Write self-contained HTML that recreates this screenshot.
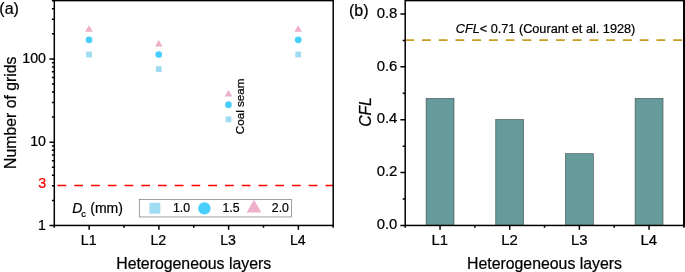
<!DOCTYPE html><html><head><meta charset="utf-8"><title>Figure</title><style>html,body{margin:0;padding:0;background:#fff}svg{display:block}text{font-family:"Liberation Sans",sans-serif;fill:#000;stroke:#000;stroke-width:.22px}</style></head><body>
<svg width="685" height="272" viewBox="0 0 685 272">
<rect width="685" height="272" fill="#fff"/>
<rect x="86.11" y="51.61" width="5.8" height="5.8" fill="#a1dbf2"/>
<circle cx="89.01" cy="39.84" r="3.35" fill="#48cefa"/>
<path d="M85.21 31.73L92.81 31.73L89.01 25.23Z" fill="#edafc9"/>
<rect x="155.84" y="66.28" width="5.8" height="5.8" fill="#a1dbf2"/>
<circle cx="158.74" cy="54.51" r="3.35" fill="#48cefa"/>
<path d="M154.94 46.40L162.54 46.40L158.74 39.90Z" fill="#edafc9"/>
<rect x="225.56" y="116.43" width="5.8" height="5.8" fill="#a1dbf2"/>
<circle cx="228.46" cy="104.66" r="3.35" fill="#48cefa"/>
<path d="M224.66 96.55L232.26 96.55L228.46 90.05Z" fill="#edafc9"/>
<rect x="295.29" y="51.61" width="5.8" height="5.8" fill="#a1dbf2"/>
<circle cx="298.19" cy="39.84" r="3.35" fill="#48cefa"/>
<path d="M294.39 31.73L301.99 31.73L298.19 25.23Z" fill="#edafc9"/>
<path d="M57.5 185.6H333.2" stroke="#ff0000" stroke-width="1.5" stroke-dasharray="8.75 8" fill="none"/>
<path d="M49.50 225.50H54.3M51.90 200.42H54.3M51.90 185.76H54.3M51.90 175.35H54.3M51.90 167.28H54.3M51.90 160.68H54.3M51.90 155.10H54.3M51.90 150.27H54.3M51.90 146.01H54.3M49.50 142.20H54.3M51.90 117.12H54.3M51.90 102.46H54.3M51.90 92.05H54.3M51.90 83.98H54.3M51.90 77.38H54.3M51.90 71.80H54.3M51.90 66.97H54.3M51.90 62.71H54.3M49.50 58.90H54.3M51.90 33.82H54.3M51.90 19.16H54.3M51.90 8.75H54.3M51.90 0.68H54.3M89.16 225.45V229.85M124.02 225.45V227.85M54.30 225.45V227.85M158.89 225.45V229.85M193.75 225.45V227.85M228.61 225.45V229.85M263.48 225.45V227.85M298.34 225.45V229.85M333.20 225.45V227.85" stroke="#000" stroke-width="1.5" fill="none"/>
<rect x="54.3" y="0.6" width="278.9" height="224.85" stroke="#000" stroke-width="1.5" fill="none"/>
<text x="46" y="62.60" font-size="14.2" text-anchor="end">100</text>
<text x="46" y="146.15" font-size="14.2" text-anchor="end">10</text>
<text x="46" y="229.80" font-size="14.2" text-anchor="end">1</text>
<text x="46.2" y="188.45" font-size="14.3" text-anchor="end" style="fill:#ff0000;stroke:#ff0000">3</text>
<text x="88.66" y="244.5" font-size="14.2" text-anchor="middle">L1</text>
<text x="158.39" y="244.5" font-size="14.2" text-anchor="middle">L2</text>
<text x="228.11" y="244.5" font-size="14.2" text-anchor="middle">L3</text>
<text x="297.84" y="244.5" font-size="14.2" text-anchor="middle">L4</text>
<text x="193.7" y="269" font-size="15.85" text-anchor="middle">Heterogeneous layers</text>
<text transform="translate(16 112.7) rotate(-90)" font-size="15.8" text-anchor="middle">Number of grids</text>
<text x="-0.7" y="13.8" font-size="16">(a)</text>
<text transform="translate(244.4 134.3) rotate(-90)" font-size="11.7">Coal seam</text>
<text x="72.3" y="213.1" font-size="14"><tspan font-style="italic">D</tspan><tspan font-size="9.4" dy="3.6" dx="-1.2">c</tspan><tspan dy="-3.6" dx="0.5"> (mm)</tspan></text>
<rect x="139.3" y="199.35" width="152.1" height="17.6" fill="#fff" stroke="#787878" stroke-width="0.7"/>
<rect x="149.4" y="202.8" width="10.9" height="10.9" fill="#a1dbf2"/>
<circle cx="204.4" cy="208.4" r="6.2" fill="#48cefa"/>
<path d="M246.6 212.6L261.4 212.6L254 199.8Z" fill="#edafc9"/>
<text x="172.9" y="212.4" font-size="12.3">1.0</text>
<text x="222.5" y="212.4" font-size="12.3">1.5</text>
<text x="271.8" y="212.4" font-size="12.3">2.0</text>
<rect x="426.09" y="98.40" width="27.9" height="127.10" fill="#679a9a" stroke="#3c4c4c" stroke-width="0.6"/>
<rect x="495.76" y="119.50" width="27.9" height="106.00" fill="#679a9a" stroke="#3c4c4c" stroke-width="0.6"/>
<rect x="565.44" y="153.70" width="27.9" height="71.80" fill="#679a9a" stroke="#3c4c4c" stroke-width="0.6"/>
<rect x="635.11" y="98.40" width="27.9" height="127.10" fill="#679a9a" stroke="#3c4c4c" stroke-width="0.6"/>
<path d="M405.2 40.15H683.9" stroke="#c59d22" stroke-width="1.75" stroke-dasharray="8.85 7.9" fill="none"/>
<path d="M400.40 225.50H405.2M402.70 199.06H405.2M400.40 172.62H405.2M402.70 146.18H405.2M400.40 119.74H405.2M402.70 93.30H405.2M400.40 66.86H405.2M402.70 40.42H405.2M400.40 13.98H405.2M440.04 225.45V229.85M474.87 225.45V227.85M405.20 225.45V227.85M509.71 225.45V229.85M544.55 225.45V227.85M579.39 225.45V229.85M614.23 225.45V227.85M649.06 225.45V229.85M683.90 225.45V227.85" stroke="#000" stroke-width="1.5" fill="none"/>
<rect x="405.2" y="0.6" width="278.7" height="224.85" stroke="#000" stroke-width="1.5" fill="none"/>
<text x="397.4" y="229.20" font-size="14.9" text-anchor="end">0.0</text>
<text x="397.4" y="176.32" font-size="14.9" text-anchor="end">0.2</text>
<text x="397.4" y="123.44" font-size="14.9" text-anchor="end">0.4</text>
<text x="397.4" y="70.56" font-size="14.9" text-anchor="end">0.6</text>
<text x="397.4" y="17.68" font-size="14.9" text-anchor="end">0.8</text>
<text x="439.84" y="244.6" font-size="14.9" text-anchor="middle">L1</text>
<text x="509.51" y="244.6" font-size="14.9" text-anchor="middle">L2</text>
<text x="579.19" y="244.6" font-size="14.9" text-anchor="middle">L3</text>
<text x="648.86" y="244.6" font-size="14.9" text-anchor="middle">L4</text>
<text x="544.5" y="269" font-size="15.85" text-anchor="middle">Heterogeneous layers</text>
<text transform="translate(370.8 112) rotate(-90)" font-size="15.7" text-anchor="middle" font-style="italic">CFL</text>
<text x="349" y="16.4" font-size="16">(b)</text>
<text x="455.8" y="32.6" font-size="12.7"><tspan font-style="italic">CFL</tspan>&lt; 0.71 (Courant et al. 1928)</text>
<rect x="683.1" y="0" width="1.9" height="226.2" fill="#000"/>
</svg></body></html>
